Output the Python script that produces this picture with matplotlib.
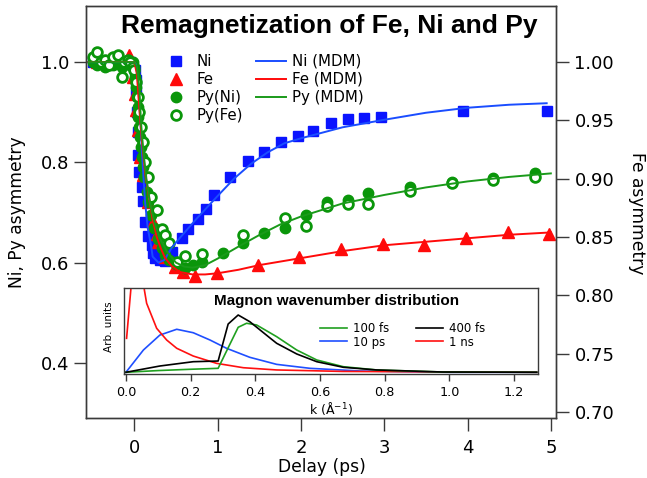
import matplotlib
matplotlib.use('Agg')
import matplotlib.pyplot as plt

plt.rcParams['font.family'] = ['DejaVu Sans']

# ---------------- data (main plot) ----------------
ni_t = [-0.5, -0.45, -0.4, -0.35, -0.3, -0.25, -0.2, -0.15, -0.1, -0.05,
        0.01, 0.02, 0.025, 0.03, 0.04, 0.05, 0.06, 0.09, 0.11, 0.13, 0.17,
        0.21, 0.22, 0.25, 0.31, 0.37, 0.45, 0.57, 0.65, 0.76, 0.86, 0.96,
        1.15, 1.36, 1.56, 1.76, 1.96, 2.15, 2.36, 2.56, 2.76, 2.96, 3.95, 4.95]
ni_v = [1.0, 1.0, 1.0, 1.0, 1.0, 1.0, 1.0, 1.0, 1.0, 1.0,
        0.985, 0.965, 0.94, 0.90, 0.86, 0.815, 0.781, 0.751, 0.722, 0.682, 0.653,
        0.635, 0.619, 0.609, 0.605, 0.603, 0.622, 0.649, 0.667, 0.687, 0.706, 0.735,
        0.771, 0.803, 0.820, 0.840, 0.853, 0.863, 0.879, 0.886, 0.889, 0.891, 0.903, 0.903]

fe_t = [-0.45, -0.3, -0.15, -0.06, -0.01, 0.01, 0.02, 0.05, 0.07, 0.10, 0.17,
        0.22, 0.27, 0.29, 0.37, 0.49, 0.59, 0.73, 0.99, 1.48, 1.98, 2.48,
        2.98, 3.48, 3.98, 4.48, 4.98]
fe_v = [1.0, 1.003, 1.0, 1.006, 0.987, 0.973, 0.959, 0.942, 0.919, 0.903, 0.880,
        0.863, 0.853, 0.846, 0.833, 0.824, 0.820, 0.817, 0.819, 0.826, 0.833, 0.840,
        0.844, 0.843, 0.849, 0.854, 0.853]

pyni_t = [-0.5, -0.45, -0.4, -0.35, -0.3, -0.25, -0.2, -0.15, -0.1, -0.05, -0.02,
          0.0, 0.01, 0.02, 0.03, 0.04, 0.05, 0.06, 0.07, 0.08, 0.09, 0.10, 0.12,
          0.15, 0.17, 0.20, 0.24, 0.28, 0.33, 0.37, 0.42, 0.50, 0.61, 0.71, 0.81,
          1.06, 1.31, 1.56, 1.81, 2.06, 2.31, 2.56, 2.81, 3.31, 3.81, 4.31, 4.81]
pyni_v = [1.0, 0.995, 1.0, 0.99, 1.0, 0.995, 1.005, 0.99, 1.0, 0.995, 1.0,
          0.99, 0.97, 0.95, 0.93, 0.91, 0.89, 0.87, 0.85, 0.83, 0.81, 0.79, 0.77,
          0.74, 0.72, 0.695, 0.67, 0.648, 0.63, 0.615, 0.605, 0.598, 0.589, 0.595, 0.602,
          0.619, 0.639, 0.659, 0.670, 0.695, 0.720, 0.724, 0.738, 0.751, 0.761, 0.768, 0.778]

pyfe_t = [-0.5, -0.45, -0.4, -0.35, -0.3, -0.25, -0.2, -0.15, -0.12, -0.08, -0.05, -0.02,
          0.0, 0.02, 0.04, 0.06, 0.08, 0.10, 0.13, 0.16, 0.20, 0.27, 0.33, 0.37,
          0.42, 0.51, 0.61, 0.81, 1.31, 1.81, 2.06, 2.31, 2.56, 2.81, 3.31, 3.81,
          4.31, 4.81]
pyfe_v = [1.01, 1.02, 1.0, 1.005, 0.995, 1.01, 1.015, 0.97, 1.0, 1.005, 1.0, 0.99,
          0.985, 0.96, 0.93, 0.90, 0.87, 0.84, 0.80, 0.77, 0.73, 0.705, 0.668, 0.655,
          0.64, 0.602, 0.613, 0.617, 0.655, 0.690, 0.674, 0.712, 0.716, 0.716, 0.743, 0.759,
          0.765, 0.771]

# model (MDM) curves
ni_m_t = [-0.55, 0.0, 0.02, 0.04, 0.06, 0.08, 0.09, 0.11, 0.13, 0.16, 0.2, 0.22,
          0.29, 0.36, 0.45, 0.55, 0.65, 0.75, 0.85, 1.0, 1.2, 1.4, 1.6, 1.8, 2.0,
          2.5, 3.0, 3.5, 4.0, 4.5, 4.95]
ni_m_v = [1.0, 1.0, 0.995, 0.97, 0.92, 0.86, 0.825, 0.77, 0.72, 0.67, 0.635, 0.612,
          0.600, 0.605, 0.630, 0.650, 0.669, 0.688, 0.706, 0.733, 0.768, 0.797, 0.820,
          0.838, 0.848, 0.870, 0.885, 0.899, 0.909, 0.915, 0.918]

fe_m_t = [-0.55, 0.0, 0.03, 0.06, 0.09, 0.13, 0.18, 0.22, 0.27, 0.32, 0.37, 0.45,
          0.55, 0.7, 0.85, 1.0, 1.25, 1.5, 2.0, 2.5, 3.0, 3.5, 4.0, 4.5, 5.0]
fe_m_v = [1.0, 1.0, 0.99, 0.96, 0.933, 0.905, 0.882, 0.865, 0.850, 0.840, 0.832, 0.825,
          0.820, 0.818, 0.818, 0.819, 0.822, 0.826, 0.832, 0.838, 0.843, 0.846, 0.849,
          0.852, 0.854]

py_m_t = [-0.55, 0.0, 0.03, 0.06, 0.08, 0.11, 0.15, 0.2, 0.25, 0.3, 0.4, 0.5, 0.6,
          0.7, 0.85, 1.0, 1.25, 1.5, 1.75, 2.0, 2.5, 3.0, 3.5, 4.0, 4.5, 5.0]
py_m_v = [1.0, 1.0, 0.99, 0.95, 0.88, 0.82, 0.76, 0.71, 0.675, 0.65, 0.62, 0.60, 0.592,
          0.59, 0.595, 0.608, 0.632, 0.655, 0.676, 0.692, 0.718, 0.735, 0.750, 0.762,
          0.771, 0.778]

x_ticks = [0, 1, 2, 3, 4, 5]
yl_ticks = [0.4, 0.6, 0.8, 1.0]
yr_ticks = [0.70, 0.75, 0.80, 0.85, 0.90, 0.95, 1.00]

# ---------------- data (inset) ----------------
k_g = [0.0, 0.10, 0.20, 0.285, 0.347, 0.373, 0.404, 0.466, 0.528, 0.59, 0.672, 0.775, 0.98, 1.27]
v_g = [0.02, 0.04, 0.055, 0.066, 0.543, 0.59, 0.57, 0.434, 0.279, 0.163, 0.085, 0.047, 0.023, 0.02]
k_k = [0.0, 0.105, 0.208, 0.285, 0.316, 0.347, 0.383, 0.445, 0.466, 0.528, 0.59, 0.672, 0.775, 0.98, 1.27]
v_k = [0.02, 0.093, 0.143, 0.151, 0.581, 0.686, 0.608, 0.42, 0.357, 0.233, 0.143, 0.078, 0.047, 0.023, 0.02]
k_b = [0.0, 0.054, 0.105, 0.157, 0.208, 0.26, 0.311, 0.383, 0.466, 0.569, 0.724, 1.0, 1.27]
v_b = [0.02, 0.279, 0.453, 0.52, 0.48, 0.395, 0.299, 0.194, 0.112, 0.066, 0.035, 0.02, 0.02]
k_r = [0.002, 0.015, 0.03, 0.045, 0.057, 0.064, 0.095, 0.126, 0.157, 0.208, 0.28, 0.363, 0.466, 0.67, 1.27]
v_r = [0.415, 0.977, 2.0, 1.6, 0.977, 0.822, 0.531, 0.395, 0.299, 0.209, 0.124, 0.073, 0.047, 0.03, 0.02]
k_ticks = [0.0, 0.2, 0.4, 0.6, 0.8, 1.0, 1.2]

# ---------------- figure ----------------
W, H = 647, 478
fig = plt.figure(figsize=(W / 100, H / 100), dpi=100)


def box(l, t, r, b):
    return [l / W, 1 - b / H, (r - l) / W, (b - t) / H]


spc = '#3a3a3a'
ax = fig.add_axes(box(86, 6, 556, 418))
axr = ax.twinx()

BLUE = '#0a14ff'
BLUE_L = '#1a4dff'
RED = '#ff0a0a'
GREEN = '#0a960a'
GREEN_L = '#1a9a1a'

h_ni, = ax.plot(ni_t, ni_v, 's', color=BLUE, ms=7.2, mec=BLUE, lw=0, label='Ni')
h_fe, = ax.plot(fe_t, fe_v, '^', color=RED, ms=8, mec=RED, lw=0, label='Fe',
                transform=axr.transData)
h_pyni, = ax.plot(pyni_t, pyni_v, 'o', color=GREEN, ms=7.5, mec=GREEN, lw=0, label='Py(Ni)')
h_pyfe, = ax.plot(pyfe_t, pyfe_v, 'o', color=GREEN, ms=7.0, mfc='white', mec=GREEN, mew=2.0,
                  lw=0, label='Py(Fe)')
h_nim, = ax.plot(ni_m_t, ni_m_v, '-', color=BLUE_L, lw=1.4, label='Ni (MDM)')
h_fem, = ax.plot(fe_m_t, fe_m_v, '-', color=RED, lw=1.4, label='Fe (MDM)',
                 transform=axr.transData)
h_pym, = ax.plot(py_m_t, py_m_v, '-', color=GREEN_L, lw=1.4, label='Py (MDM)')

ax.set_xlim(-0.58, 5.062)
ax.set_ylim(0.290, 1.112)
axr.set_ylim(0.695, 1.048)
ax.set_autoscale_on(False)

ax.set_xticks(x_ticks)
ax.set_xticklabels([str(v) for v in x_ticks])
ax.set_yticks(yl_ticks)
ax.set_yticklabels(['%.1f' % v for v in yl_ticks])
axr.set_yticks(yr_ticks)
axr.set_yticklabels(['%.2f' % v for v in yr_ticks])

for a in (ax, axr):
    for s in a.spines.values():
        s.set_color(spc)
        s.set_linewidth(1.0)
ax.tick_params(axis='x', direction='out', length=9, width=1, color=spc, labelsize=13, pad=6)
ax.tick_params(axis='y', direction='out', length=9, width=1, color=spc, labelsize=13, pad=3)
axr.tick_params(axis='y', direction='out', length=9, width=1, color=spc, labelsize=13, pad=4.3)

ax.set_xlabel('Delay (ps)', fontsize=12.3, va='center')
ax.xaxis.set_label_coords(0.501, -0.119)
ax.set_ylabel('Ni, Py asymmetry', fontsize=12.3, va='center')
ax.yaxis.set_label_coords(-0.147, 0.5)
axr.set_ylabel('Fe asymmetry', fontsize=12.3, rotation=270, va='center')
axr.yaxis.set_label_coords(1.172, 0.4976)

fig.text(329 / W, 1 - 33 / H, 'Remagnetization of Fe, Ni and Py', family='Liberation Sans',
         weight='bold', fontsize=19, ha='center', va='baseline')

leg = ax.legend(handles=[h_ni, h_fe, h_pyni, h_pyfe, h_nim, h_fem, h_pym], ncol=2,
                loc='upper left', bbox_to_anchor=(161 / W, 1 - 54 / H),
                bbox_transform=fig.transFigure, frameon=False, fontsize=10.8,
                borderpad=0, borderaxespad=0, handlelength=2.0, handletextpad=0.4,
                columnspacing=0.8, labelspacing=0.2, numpoints=1)

# ---------------- inset ----------------
axi = fig.add_axes(box(124, 288, 538, 374))
axi.set_zorder(10)
axi.plot(k_b, v_b, color='#1f4fff', lw=1.2, label='10 ps')
axi.plot(k_r, v_r, color='#ff1010', lw=1.2, label='1 ns')
axi.plot(k_g, v_g, color='#20a020', lw=1.2, label='100 fs')
axi.plot(k_k, v_k, color='black', lw=1.2, label='400 fs')
axi.set_xlim(-0.006, 1.274)
axi.set_ylim(0, 1)
axi.set_yticks([])
axi.set_xticks(k_ticks)
axi.set_xticklabels(['%.1f' % v for v in k_ticks])
for s in axi.spines.values():
    s.set_color(spc)
    s.set_linewidth(1.0)
axi.tick_params(axis='x', direction='out', length=5, width=1, color=spc, labelsize=9.2, pad=4)
axi.set_xlabel('k (Å$^{-1}$)', fontsize=9.0, va='center')
axi.xaxis.set_label_coords(0.5, -0.40)
axi.set_ylabel('Arb. units', fontsize=7.5, va='center')
axi.yaxis.set_label_coords(-0.036, 0.547)
axi.text(0.514, 0.852, 'Magnon wavenumber distribution', transform=axi.transAxes,
         family='Liberation Sans', weight='bold', fontsize=11, ha='center', va='center')
hs, ls = axi.get_legend_handles_labels()
order = ['100 fs', '10 ps', '400 fs', '1 ns']
hmap = dict(zip(ls, hs))
axi.legend([hmap[o] for o in order], order, ncol=2, loc='upper left',
           bbox_to_anchor=(320 / W, 1 - 322 / H), bbox_transform=fig.transFigure,
           frameon=False, fontsize=8.5, borderpad=0, borderaxespad=0, handlelength=2.3,
           handletextpad=0.5, columnspacing=2.26, labelspacing=0.05)

fig.savefig('out.png', dpi=100)
